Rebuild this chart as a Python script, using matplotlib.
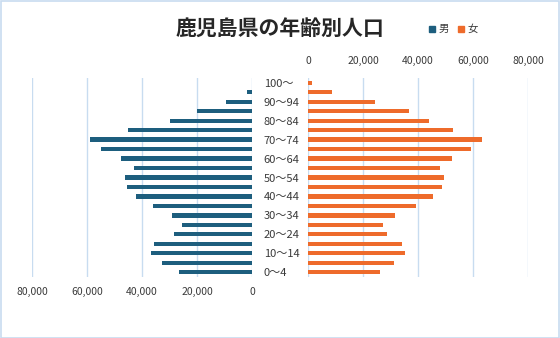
import matplotlib.pyplot as plt
from matplotlib.patches import Rectangle
from matplotlib.ticker import FuncFormatter
import numpy as np

plt.rcParams['font.family'] = ['Noto Sans CJK JP', 'DejaVu Sans']

# 年齢階級 (下から上へ)
ages = ["0～4", "5～9", "10～14", "15～19", "20～24", "25～29", "30～34",
        "35～39", "40～44", "45～49", "50～54", "55～59", "60～64", "65～69",
        "70～74", "75～79", "80～84", "85～89", "90～94", "95～99", "100～"]
male = [26500, 32700, 36700, 35600, 28400, 25500, 29100, 36000, 42200,
        45500, 46200, 42900, 47600, 54900, 58900, 45100, 29800, 20000,
        9450, 1800, 100]
female = [26200, 31300, 35300, 34200, 28700, 27300, 31600, 39300, 45500,
          48700, 49500, 48100, 52400, 59300, 63300, 52700, 44100, 36800,
          24400, 8700, 1450]
xticks = [0, 20000, 40000, 60000, 80000]

c_male = '#1D5E7E'
c_female = '#EE6B2B'
c_grid = '#C8DCF0'
c_text = '#3A3A3A'

W, H = 560, 338
fig = plt.figure(figsize=(W / 100, H / 100), dpi=100)

def px_axes(x0, x1, y0, y1):
    return fig.add_axes([x0 / W, 1 - y1 / H, (x1 - x0) / W, (y1 - y0) / H])

ax_l = px_axes(32, 252, 78, 277)
ax_r = px_axes(308, 528, 78, 277)

y = np.arange(len(ages))
fmt = FuncFormatter(lambda v, p: f"{int(v):,}")

for ax, vals, col in [(ax_l, male, c_male), (ax_r, female, c_female)]:
    ax.barh(y, vals, height=0.45, color=col, zorder=3)
    ax.set_xlim(0, 80000)
    ax.set_ylim(-0.5, len(ages) - 0.5)
    ax.set_xticks(xticks)
    ax.xaxis.set_major_formatter(fmt)
    ax.grid(axis='x', color=c_grid, linewidth=1, zorder=0)
    for s in ax.spines.values():
        s.set_visible(False)
    ax.tick_params(axis='x', length=0, labelsize=7.5, labelcolor=c_text)

ax_l.invert_xaxis()
ax_l.tick_params(axis='x', pad=7)
ax_r.xaxis.tick_top()
ax_r.tick_params(axis='x', pad=9)
ax_r.set_yticks([])

# 年齢ラベル（1つおき）
ax_l.yaxis.tick_right()
ax_l.set_yticks(y[::2])
ax_l.set_yticklabels(ages[::2])
ax_l.tick_params(axis='y', length=0, pad=8.5, labelsize=8, labelcolor=c_text)

fig.text(280 / W, 1 - 28 / H, "鹿児島県の年齢別人口", ha='center', va='center',
         fontsize=15, fontweight='bold', color='#262626')

# 凡例
fig.patches.append(Rectangle((429 / W, 1 - 32 / H), 6 / W, 6 / H,
                             transform=fig.transFigure, color=c_male))
fig.text(439 / W, 1 - 29 / H, "男", va='center', fontsize=7.5, color=c_text)
fig.patches.append(Rectangle((458 / W, 1 - 32 / H), 6 / W, 6 / H,
                             transform=fig.transFigure, color=c_female))
fig.text(467 / W, 1 - 29 / H, "女", va='center', fontsize=7.5, color=c_text)

fig.patches.append(Rectangle((0.5 / W, 0.5 / H), (W - 1.5) / W, (H - 1.5) / H,
                             transform=fig.transFigure, fill=False,
                             edgecolor=c_grid, linewidth=1.2))

fig.savefig("out.png", dpi=100)
